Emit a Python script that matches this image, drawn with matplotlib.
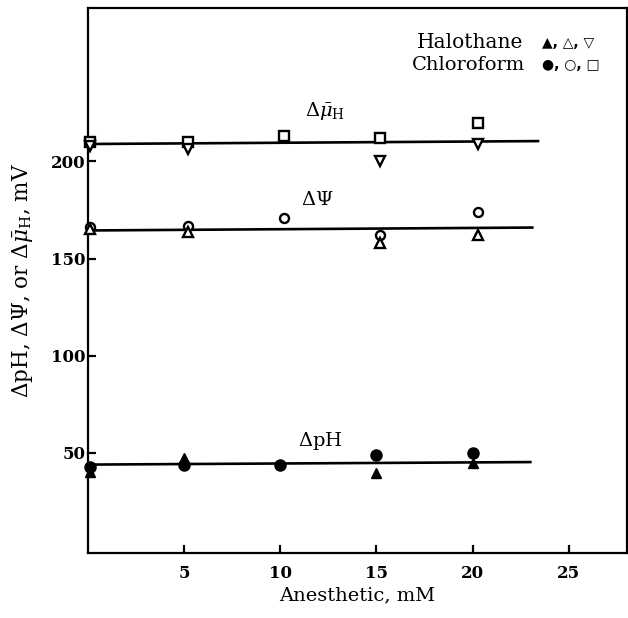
import matplotlib
matplotlib.use("Agg")
import matplotlib.pyplot as plt

plt.rcParams['font.family'] = ['DejaVu Serif', 'DejaVu Sans']
plt.rcParams['mathtext.fontset'] = 'dejavuserif'

# values (mV vs mM anesthetic)
x_upper = [0.1, 5.2, 10.2, 15.2, 20.3]
x_ph = [0.1, 5.0, 10.0, 15.0, 20.0]

mu_chloro = [210, 210, 213, 212, 220]      # open squares
mu_halo_x = [0.1, 5.2, 15.2, 20.3]
mu_halo = [208, 206.5, 200, 209]           # open down-triangles

psi_chloro = [166.5, 167, 171, 162, 174]   # open circles
psi_halo_x = [0.1, 5.2, 15.2, 20.3]
psi_halo = [165, 163.5, 158, 162]          # open up-triangles

ph_chloro = [43, 44, 44, 49, 50]           # filled circles
ph_halo_x = [0.1, 5.0, 15.0, 20.0]
ph_halo = [40, 47.5, 39.5, 45]             # filled up-triangles

# fitted lines (start, end)
fit_x = [[0, 23.4], [0, 23.1], [0, 23.0]]
fit_y = [[209, 210.5], [164.5, 166], [44, 45.3]]

xticks = [5, 10, 15, 20, 25]
yticks = [50, 100, 150, 200]

fig = plt.figure(figsize=(6.28, 6.18), dpi=100)
ax = fig.add_axes([88 / 628, 65 / 618, 538.5 / 628, 545 / 618])

for fx, fy in zip(fit_x, fit_y):
    ax.plot(fx, fy, color='black', lw=1.9, zorder=2)

open_kw = dict(linestyle='none', mfc='white', mec='black', mew=1.7, zorder=3, clip_on=False)
ax.plot(x_upper, mu_chloro, marker='s', ms=6.5, **open_kw)
ax.plot(mu_halo_x, mu_halo, marker='v', ms=7, **open_kw)
ax.plot(x_upper, psi_chloro, marker='o', ms=6.5, **open_kw)
ax.plot(psi_halo_x, psi_halo, marker='^', ms=7, **open_kw)

fill_kw = dict(linestyle='none', color='black', zorder=3, clip_on=False)
ax.plot(x_ph, ph_chloro, marker='o', ms=8, **fill_kw)
ax.plot(ph_halo_x, ph_halo, marker='^', ms=7.5, **fill_kw)

ax.set_xlim(0, 28)
ax.set_ylim(-1.5, 279)
ax.set_xticks(xticks)
ax.set_yticks(yticks)
ax.tick_params(direction='in', length=6, width=1.6, labelsize=12)
ax.tick_params(axis='x', pad=9)
ax.tick_params(axis='y', pad=2)
for lab in ax.get_xticklabels() + ax.get_yticklabels():
    lab.set_fontweight('bold')
for sp in ax.spines.values():
    sp.set_linewidth(1.6)

ax.set_xlabel('Anesthetic, mM', fontsize=14, labelpad=3)
ax.set_ylabel(r'$\Delta$pH, $\Delta\Psi$, or $\Delta\bar{\mu}_{\mathrm{H}}$, mV', fontsize=15.5, labelpad=11)

ax.text(12.3, 226, r'$\Delta\bar{\mu}_{\mathrm{H}}$', fontsize=14, ha='center', va='center')
ax.text(11.9, 180, r'$\Delta\Psi$', fontsize=14, ha='center', va='center')
ax.text(12.1, 56, r'$\Delta$pH', fontsize=14, ha='center', va='center')

ax.text(0.808, 0.936, 'Halothane', transform=ax.transAxes, fontsize=14.5, ha='right', va='center')
ax.text(0.812, 0.895, 'Chloroform', transform=ax.transAxes, fontsize=14, ha='right', va='center')
ax.text(0.843, 0.936, '▲, △, ▽', transform=ax.transAxes, fontsize=10, fontweight='bold',
        ha='left', va='center', family=['DejaVu Sans'])
ax.text(0.843, 0.895, '●, ○, □', transform=ax.transAxes, fontsize=10, fontweight='bold',
        ha='left', va='center', family=['DejaVu Sans'])

fig.savefig('out.png', dpi=100)
